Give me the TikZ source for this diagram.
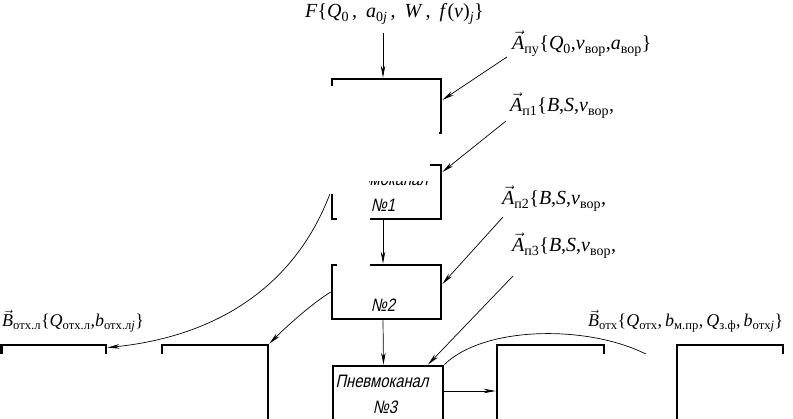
\documentclass[tikz,border=0pt]{standalone}
\usepackage{amsmath}
\usepackage{fontspec}
\setmainfont{Liberation Serif}
\newfontfamily\gost[FakeSlant=0.22,FakeStretch=0.82]{Liberation Sans}
\usetikzlibrary{arrows.meta,calc}
\newcommand\iv[1]{\textit{#1}}
\newcommand\sbs[1]{\ensuremath{{}_{\text{#1}}}}
\newcommand\vA{\ensuremath{\vec{\text{\itshape A}}}}
\newcommand\vB{\ensuremath{\vec{\text{\itshape B}}}}
\newcommand\wc{\hspace{3pt},\hspace{9pt}}
\begin{document}
\begin{tikzpicture}[x=1pt,y=-1pt,
  box/.style={draw, line width=2.8pt, inner sep=0pt, align=center,
    font=\gost\fontsize{18}{26}\selectfont},
  small/.style={minimum width=109pt, minimum height=54pt},
  big/.style={minimum height=92pt},
  conn/.style={-{Stealth[length=12pt,width=4.5pt]}, line width=0.7pt},
  lab/.style={inner sep=0pt, anchor=base west, font=\fontsize{20}{24}\selectfont},
  labb/.style={lab, font=\fontsize{18}{22}\selectfont},
  mask/.style={fill=white, draw=none}]
\useasboundingbox (0,0) rectangle (793,419);
% central chain
\node[box, small] (b1) at (386.5,106) {};
\node[box, small] (b2) at (386.5,192) {Пневмоканал\hspace*{10pt}\\№1\hspace*{7pt}};
\node[box, small] (b3) at (386.5,292) {\phantom{Пневмоканал}\\№2\hspace*{7pt}};
\node[box, small, minimum width=110pt, minimum height=56pt] (b4) at (388,394) {Пневмоканал\hspace*{12pt}\\№3\hspace*{6pt}};
% bottom row
\node[box, big, minimum width=104.5pt] (l1) at (53.75,391) {};
\node[box, big, minimum width=106pt] (l2) at (215,391) {};
\node[box, big, minimum width=107pt] (b5) at (550.5,391) {};
\node[box, big, minimum width=106pt] (b6) at (730,391) {};
% labels
\node[lab] (F) at (305,18) {\iv{F}\{\iv{Q}\sbs{0}\wc\iv{a}\sbs{0\textit{j}}\wc\iv{W}\wc\iv{f}(\iv{v})\sbs{\textit{j}}\}};
\node[lab] (apu) at (512,50) {\vA\sbs{пу}\{\iv{Q}\sbs{0},\iv{v}\sbs{вор},\iv{a}\sbs{вор}\}};
\node[lab] (ap1) at (510,112) {\vA\sbs{п1}\{\iv{B},\iv{S},\iv{v}\sbs{вор},};
\node[lab] (ap2) at (502,205) {\vA\sbs{п2}\{\iv{B},\iv{S},\iv{v}\sbs{вор},};
\node[lab] (ap3) at (512,252) {\vA\sbs{п3}\{\iv{B},\iv{S},\iv{v}\sbs{вор},};
\node[labb] (bol) at (2,327) {\vB\sbs{отх.л}\{\iv{Q}\sbs{отх.л},\iv{b}\sbs{отх.л\textit{j}}\}};
\node[labb] (bo) at (588,327) {\vB\sbs{отх}\{\iv{Q}\sbs{отх},\,\iv{b}\sbs{м.пр},\,\iv{Q}\sbs{з.ф},\,\iv{b}\sbs{отх\textit{j}}\}};
% free ends of label arrows
\coordinate (sF) at (383,33);
\coordinate (spu) at (507,57);
\coordinate (sp1) at (506,121);
\coordinate (sp2) at (503,217);
\coordinate (sp3) at (513,276);
% connectors
\draw[conn] (sF) -- (sF |- b1.north);
\draw[conn] (spu) -- ([yshift=6pt]b1.east);
\draw[conn] (sp1) -- ([yshift=20pt]b2.east);
\draw[conn] (sp2) -- ([yshift=8pt]b3.east);
\draw[conn] (sp3) -- ([xshift=40pt]b4.north);
\draw[conn] ([xshift=-3.5pt]b2.south) -- ([xshift=-3.5pt]b3.north);
\draw[conn] ([xshift=-3.5pt]b3.south) -- ([xshift=-4.5pt]b4.north);
\draw[conn] (b4.east |- b5.west) -- (b5.west);
\draw[conn] (b2.west) .. controls (300,275) and (230,335) .. ([yshift=-4pt]l1.north east);
\draw[conn] (b3.west) .. controls (310,305) and (285,328) .. (l2.north east);
\draw[conn] (b4.north east) .. controls (490,320) and (620,325) .. ([yshift=16pt]b6.west);
% occluded areas of the reference
\fill[mask] (326,86) rectangle (438.5,150);
\fill[mask] (326,150) rectangle (429.5,181);
\fill[mask] (326,181) rectangle (368.5,194.5);
\fill[mask] (336.5,213) rectangle (370,225);
\fill[mask] (336.5,260) rectangle (369.5,268);
\fill[mask] (-5,354) rectangle (108.5,425);
\fill[mask] (159.5,354) rectangle (266.5,425);
\fill[mask] (500,354) rectangle (675.5,425);
\fill[mask] (679.5,354) rectangle (800,425);
\end{tikzpicture}
\end{document}
